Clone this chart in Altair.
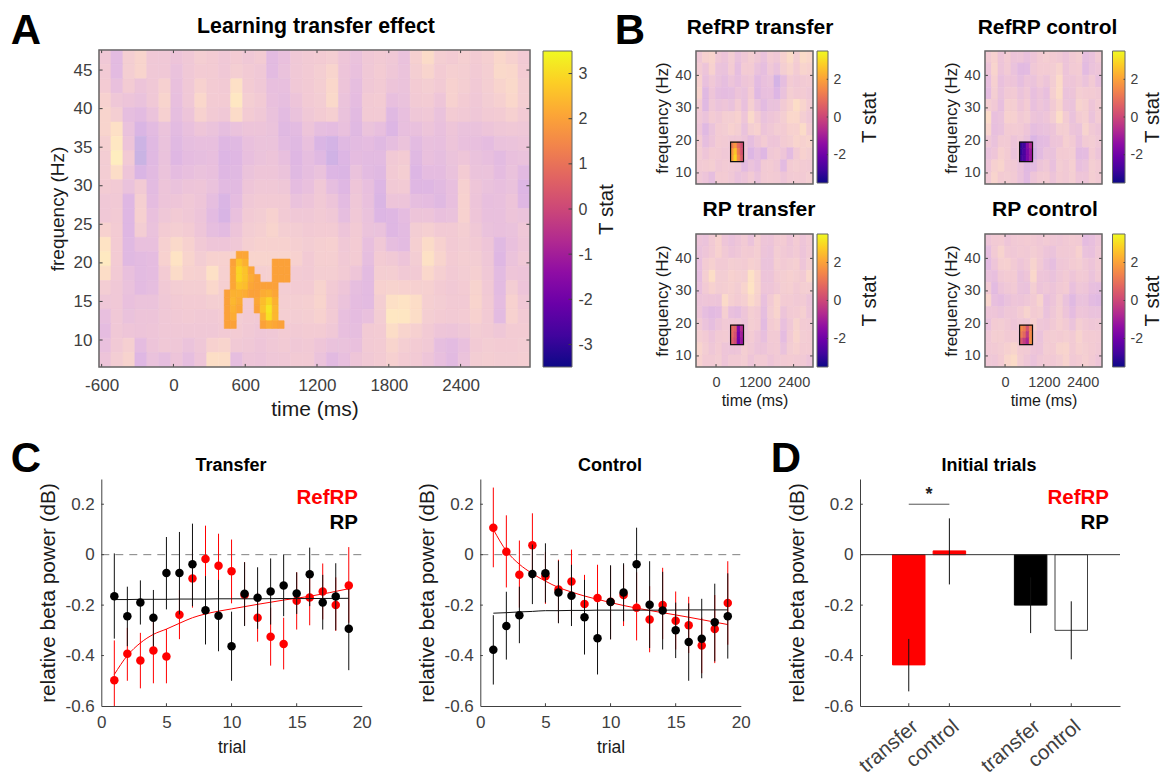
import altair as alt
import numpy as np
import pandas as pd

W, H = 1154, 772
FONT = "Liberation Sans"
GREY = "#404040"
RED = "#ff0000"

PLASMA = ["#0d0887", "#41049d", "#6a00a8", "#8f0da4", "#b12a90", "#cc4778",
          "#e16462", "#f2844b", "#fca636", "#fcce25", "#f0f921"]


def wash(c, a=0.3):
    r = [int(c[i:i + 2], 16) for i in (1, 3, 5)]
    return "#%02x%02x%02x" % tuple(int(round(v * a + 255 * (1 - a))) for v in r)


WASHED = [wash(c) for c in PLASMA]

# ---------- panel A: T statistics, rows from top (high frequency) to bottom
A_T = [
 [0,-1,.5,1,0,0,-.3,0,.5,.3,0,.3,0,.3,-1,-.6,0,.2, .3,.5,-.2,-.5,0,.2,0,-.5,.7,1.5,.5,.3,.6,.3,.6,1.2,.8,.2],
 [.2,-1,.5,1,0,0,-.5,0,.3,.3,0,.5,.2,0,-1,-.5,0,.2, .5,1,-.3,-.6,0,.3,-.1,-.4,.5,1,.3,.6,.5,.2,.5,1.3,1.2,.3],
 [.3,-.6,.3,-.3,0,.7,-.6,0,.8,.3,.2,1.8,.3,0,-.7,-.7,0,.2, .5,1.2,-.3,-.8,0,.2,-.3,-.4,.3,.5,.2,.8,.5,.1,.5,1,1.3,.5],
 [.8,-.1,-.3,-.5,0,1,-.7,0,1.2,.3,.3,2.3,.5,.2,-.6,-.8,-.3,.2, .4,1.3,-.4,-.9,.2,.3,-.7,-.5,.2,.3,-.2,.8,.3,0,.4,.7,1.2,.5],
 [1,.5,-.8,-1,-.4,.7,-.8,-.3,.8,.2,0,1.5,.3,0,-.5,-1,-.5,0, .3,.6,-.5,-1.1,.2,.2,-1.2,-.7,-.1,0,-.5,.3,.1,-.1,.2,.3,.7,.2],
 [1,1.8,-.5,-1.6,-1,-.4,-1,-.6,-.2,-.4,-.8,-.5,-.3,-.3,-.4,-1.2,-1,-.3, -.8,-.9,-.6,-1.2,-.4,-.7,-1.4,-.7,-.6,-.3,-.6,-.2,-.5,-.5,-.3,-.1,0,-.1],
 [.6,2.3,-.3,-2.4,-1.2,-.5,-1.2,-.8,-.7,-.7,-1.3,-1.2,-.6,-.4,-.4,-1,-1.2,-.6, -1.6,-2,-1.2,-1,-.9,-1.2,-.8,-.4,-1,-.6,-.7,-.3,-.6,-.7,-.9,-.5,-.4,-.3],
 [.4,2.6,.2,-2.6,-1.2,-.5,-1.3,-.9,-.8,-.7,-1.4,-1.3,-.7,-.4,-.3,-.7,-1.3,-.8, -1.2,-2.2,-1.4,-.9,-1,-1,.1,.3,-1.2,-.6,-.8,-.4,-.2,-.5,-.7,-1,-.6,-.5],
 [.4,1.6,-.2,-1.6,-1.1,-.4,-.9,-.7,-.5,-.6,-1.3,-1.2,-.4,-.2,-.2,-.4,-1.2,-.8, -.5,-1.4,-1.5,-.5,-1,-1.2,.2,.5,-1.4,-.9,-.9,-.5,.3,-.4,-.4,-.9,-.5,-1.1],
 [.3,.2,-.5,.2,-1,-.3,-.5,-.3,-.2,-.5,-1.1,-1.1,-.2,0,0,-.1,-.9,-.6, 0,-.8,-1.3,-.2,-.7,-1.4,.1,.2,-1.3,-1.3,-1.1,-.7,.7,-.2,-.5,-.7,-.5,-1.4],
 [0,.1,-1.3,.6,-.9,-.3,-.2,0,-.2,-.8,-1.6,-.9,0,.2,.2,.2,-.5,-.3, .1,-.3,-1,-.1,-.6,-1.6,-.3,-.3,-.8,-.9,-1.2,-.7,.8,-.3,-.7,-.6,-.3,-1.3],
 [0,.2,-1.3,.7,-.6,-.1,.2,0,-.3,-1,-1.7,-.6,.2,.4,.8,.2,0,0, .2,0,-.8,0,-.5,-1.4,-1.3,-.9,-.3,-.3,-.6,-.5,.8,-.2,-.6,-.6,-.3,-.4],
 [.8,.3,-1.3,.4,-.5,.3,.5,.3,-.2,-.8,-1,-.3,.4,.6,1,.5,.4,.2, .3,.3,-.3,.2,-.4,-.5,-1.3,-1,.4,.6,.2,.2,.5,0,-.5,-.6,-.5,-.1],
 [2,.3,-1.2,-.6,-.6,.7,1.3,.8,.1,-.2,-.2,0,.6,.8,.8,.8,.6,.4, .6,.7,0,.3,-.7,0,-.8,-1,.6,1.5,.8,.2,.4,.2,-.2,-1.2,-.6,-.2],
 [2.4,.3,-1.2,-1,-.9,.8,2,1,.4,.8,.8,1,1,1,1,1,.8,.2, .6,.6,.1,.3,-.8,.3,.1,-.3,.4,1.9,1,.3,.5,.4,-.1,-1.3,-.4,0],
 [1.6,.2,-.6,-1,-.9,.3,1.5,.8,.7,1.8,.7,.6,.5,.6,.7,.6,.3,.2, .5,.5,.2,-.2,-1,.5,.5,.1,.2,1.2,.6,.2,.4,.6,0,-1,-.2,-.3],
 [.4,0,-.5,-1,-.8,.1,.4,.5,.5,1.2,.6,.5,.4,.5,.5,.4,.3,.3, .9,.2,-.2,-.8,-1,.8,.9,.8,.7,.7,.3,.1,.3,.9,.1,-1,.4,-.3],
 [-.1,0,-.6,-.4,-.4,0,.2,.3,.3,.5,.5,.4,.3,.3,.4,.5,.5,.6, 1,.1,-.4,-.9,-1,.5,1.8,2,1.6,.6,.4,.2,.2,1,.2,-.9,.8,0],
 [-.7,0,-.5,-.3,-.3,0,.1,.2,.1,.1,.3,.4,.2,.1,.3,.5,.4,.5, .8,.2,-.7,-.9,-.6,.4,2.3,2.2,1.6,.5,.3,.2,.3,.8,.2,-1,.8,.2],
 [-.9,0,-.2,-.3,-.2,0,0,0,0,0,.2,.3,.1,-.1,0,.3,.2,.3, .3,0,-.7,-.8,.2,.3,1.6,1,.7,.2,-.2,-.3,-.1,.4,.2,-.1,.3,.3],
 [-.6,.1,.6,-.9,-.3,0,-.1,-.4,-.1,.8,1,.1,0,-.2,0,.2,0,.1, -.2,-.5,-.5,-.6,.2,.3,1,.5,.3,.1,-.8,-1,-.6,.2,.4,.3,.3,.4],
 [-.3,.4,.9,-1.3,-.5,-.8,-.3,-.8,-.2,1.7,1.6,-.8,-.2,-.3,-.1,0,.2,.2, -.4,-1.1,-.7,-.2,.1,.3,.7,.3,.2,-.2,-.7,-1.1,-.4,.4,.5,.4,.4,.5],
]

# significant cluster of panel A: frequency -> {time bin start (ms): T}
A_BLOB = {
    21: {525: 2.1, 575: 2.1},
    20: {475: 2.0, 525: 2.6, 575: 2.3, 825: 2.0, 875: 2.0, 925: 2.0},
    19: {475: 2.1, 525: 2.9, 575: 2.6, 625: 2.1, 825: 2.0, 875: 2.0, 925: 2.0},
    18: {475: 2.1, 525: 2.9, 575: 2.6, 625: 2.2, 675: 2.0, 825: 2.0, 875: 2.0, 925: 2.0},
    17: {475: 2.1, 525: 2.6, 575: 2.5, 625: 2.1, 675: 2.0, 725: 2.0, 775: 2.0, 825: 2.0},
    16: {425: 2.0, 475: 2.3, 525: 2.3, 575: 2.2, 625: 2.0, 675: 2.0, 725: 2.2, 775: 2.3, 825: 2.1},
    15: {425: 2.0, 475: 2.4, 525: 2.2, 675: 2.1, 725: 2.5, 775: 2.9, 825: 2.3},
    14: {425: 2.0, 475: 2.3, 525: 2.1, 675: 2.0, 725: 2.6, 775: 3.2, 825: 2.4},
    13: {425: 2.0, 475: 2.2, 725: 2.3, 775: 3.1, 825: 2.4},
    12: {425: 2.0, 475: 2.0, 725: 2.0, 775: 2.2, 825: 2.1, 875: 2.0},
}

# ---------- panel B: T statistics
B1_T = [
 [0,.8,1,0,-.3,.4,-.5,0,.5,0,-.5,.3,0,.8,1.5,.5,1.5,1.2],
 [.3,-.3,.8,-.4,-.5,.3,-.8,.3,.3,-.5,-.8,0,-.5,.5,1,.3,1,.8],
 [.8,-.6,0,-.5,-.8,-.3,-.7,-.2,0,-1,-.6,-.4,-2,-.8,.3,0,.2,.3],
 [1,-1.2,-.2,-.8,-.9,-.8,-.3,-.5,.3,-1.2,-.7,-.6,-1.4,-.5,.5,.2,.3,0],
 [.3,-1.2,0,-.4,-.2,-.5,.3,-.6,.6,-.4,-1,-.5,-.5,.2,.8,1.6,1,.3],
 [0,-.4,.3,0,.5,.5,.8,-.2,1.3,.3,-.5,-.2,0,.5,1.2,1.2,.5,0],
 [-.2,-1.2,-.4,.3,.4,.8,.5,-.5,.5,.8,-.3,0,.4,.3,.8,.8,1.5,.3],
 [.3,-.8,-.3,.3,.2,0,0,-.3,-.8,-.2,.3,-.2,-.2,.3,.5,1,.8,1],
 [.4,-.2,.3,.2,0,0,0,-.2,-1.4,-.8,-1.3,0,.2,-.2,-1,.2,.8,.5],
 [.2,.3,.5,0,.2,.1,-.1,-1,-.4,-.8,.2,.3,0,-1,.3,.5,.3,.2],
 [0,-.3,-.8,.3,.3,0,-.5,-.3,.2,-.4,.2,.3,.2,-.2,.2,.3,.2,.5],
]
B2_T = [
 [.2,.8,-.2,.3,-.3,-.2,-.6,-.2,.3,.5,.3,.1,-.3,.2,.5,-.8,-.5,.2],
 [-.3,1,-.3,.2,-.5,-1.1,-1,0,.3,.3,.4,.9,-.3,.2,.3,-1,-.4,-.2],
 [-.7,.7,-.6,-.2,-.3,-.8,-.3,-.4,.1,-.3,.4,1.4,-.2,-.2,.1,-.4,.2,-.6],
 [-.9,.5,-.5,.1,.2,-.4,0,-.7,-.3,-.7,.6,1.5,-.4,-.3,.5,.3,.3,.1],
 [.5,.1,-.7,.6,.5,-.2,.3,-.6,-.2,-.5,.2,1,-.3,-.4,.9,.6,-.2,.3],
 [1.5,-.6,-.4,.8,.7,.1,.4,-.3,-.4,-.2,.4,1.6,.3,-.5,.3,.6,-.4,.3],
 [1,-.7,-.5,.3,.3,.2,-.2,-.8,-.6,-.5,-.3,.5,.5,-.3,-.4,.9,.1,-.2],
 [0,-.5,.2,.2,-.3,0,-.5,-1.5,-1,-.9,-.3,-.2,.6,.2,-.6,.2,.4,0],
 [-.5,-.2,.7,.3,-.4,0,-.7,-1.9,-1,-.4,-.5,.3,.3,.4,-1,-.9,.3,-.3],
 [-.2,.7,1,.2,.1,-.4,-1.2,-1,-.3,0,-.6,.4,.1,.6,-.7,-.4,.5,.2],
 [.1,1,.3,.4,.2,-.4,-1.1,-.2,.2,.3,-.3,.3,.1,.5,-.2,-.2,.5,.2],
]
B3_T = [
 [-.3,-.4,.2,.8,-.2,-.5,-.2,.2,-.4,.5,-.2,-.3,.2,.3,-.2,.3,-.2,.2],
 [-.5,-.2,.2,.8,.1,-.3,-.1,.3,.2,.5,-.3,-.4,.4,.1,-.1,.2,-.3,.2],
 [-.7,.3,.7,.2,.2,.5,.4,.3,.7,.5,-.4,-.4,.5,.2,.4,.6,-.2,.5],
 [-.8,.5,1.6,.4,.4,.8,.6,.5,1.9,1,-.3,-.3,.3,.5,.7,.5,.2,1.2],
 [-.6,.2,.8,.4,.5,.7,.4,1,2,1,-.2,-.2,.1,.5,.6,.2,.5,.5],
 [-.3,-.2,-.2,-.3,1.4,.6,.3,.6,1.4,.8,-.6,.2,1,.3,.3,.1,.2,-.3],
 [-.2,-.8,-1.1,-.9,.6,-.6,-.8,-.2,.5,.2,-.8,.4,1,-.3,.2,.3,.6,-.2],
 [.2,-.4,-.8,-.3,.1,0,0,-.3,.5,.3,-1,.3,.6,-.6,0,.9,.3,.2],
 [.5,.2,-.3,.2,.3,0,0,-.1,.3,-.2,-.7,.2,.2,-.9,.2,1,.4,.3],
 [1,.4,-.1,.3,-.2,-.3,-.2,.5,.1,-.3,-.3,.1,.2,-.5,.4,.7,.3,.3],
 [.8,.2,.2,.4,-.2,.2,.2,.4,-.2,.2,.2,-.2,.1,.2,.3,.2,.1,-.3],
]
B4_T = [
 [-.2,.2,.3,-.2,.1,.2,.3,.2,0,.2,0,-.1,.1,.3,.2,-.9,-.7,-.2],
 [-.8,.2,.9,.1,0,.2,.1,.4,.1,-.3,-.4,.1,.1,.2,.8,-.5,-.6,0],
 [-1,-.2,.6,.7,.2,-.2,.1,.9,.1,-.5,-.8,-.1,0,.3,.5,0,-.3,.2],
 [-.5,-.7,.1,.3,.3,-.5,-.2,1.2,-.2,-.3,-.5,-.1,.2,-.2,.2,.1,-.4,.1],
 [.2,-1,-.3,0,.2,-.4,-.5,.5,-.3,-.1,-.3,.1,.3,-.6,-.1,-.2,-.7,-.8],
 [1,-.7,-.9,-.5,-.2,-.3,-.1,.2,.9,-.6,-.3,.4,-.5,-1.2,-.5,-.5,-1,-1.2],
 [-.2,-.2,-.4,-.1,-.1,.3,.9,.3,.5,-.5,-.1,.5,-.3,-.9,-.2,-.3,-.5,-.5],
 [-.5,.3,.4,.1,-.2,0,0,.7,-.1,-.2,.1,.6,.2,-.4,.5,.1,-.1,0],
 [0,.5,.5,.2,.3,0,0,.1,-.4,.3,.4,.3,.5,.2,.9,.3,.3,.2],
 [.1,.2,.4,.7,1,.3,.2,-.2,-.3,.4,.3,.9,1,.2,.7,.5,.3,.1],
 [0,-.1,.3,1.1,1.5,.4,-.1,-.4,0,.2,.1,.4,.9,.1,.3,.6,.2,-.2],
]
# time-frequency window of panel B: rows high to low, four time bins
B1_WIN = [[1.2, 1.8, .8, .2], [1.8, 2.6, 1.2, .3], [1.9, 2.9, 1.5, .5]]
B2_WIN = [[-3, -2.8, -1.6, -.8], [-3, -2.6, -1.8, -1.2], [-2.8, -2.6, -1.8, -1.2]]
B3_WIN = [[.8, .6, -1.7, -.7], [.8, .3, -1.9, -1], [.6, .1, -2, -1.2]]
B4_WIN = [[1.5, 1.2, .3, 1.3], [1.2, .8, -.3, 1.5], [.4, -.2, -.8, 1.6]]

# ---------- panel C
TRIALS = list(range(1, 20))
TR_RED = [-.498,-.393,-.42,-.38,-.404,-.238,-.094,-.017,-.044,-.066,-.16,-.25,-.325,-.354,-.183,-.17,-.146,-.2,-.122]
TR_RED_HI = [-.34,-.29,-.31,-.25,-.295,-.14,.02,.115,.083,.06,-.03,-.15,-.21,-.25,-.07,-.06,-.035,-.09,.03]
TR_RED_LO = [-.6,-.5,-.53,-.51,-.51,-.335,-.21,-.15,-.17,-.193,-.28,-.345,-.44,-.455,-.297,-.28,-.257,-.302,-.27]
TR_BLK = [-.165,-.244,-.19,-.25,-.073,-.073,-.038,-.22,-.242,-.363,-.155,-.171,-.146,-.122,-.154,-.078,-.19,-.166,-.294]
TR_BLK_HI = [.005,-.127,-.102,-.14,.07,.09,.123,-.085,-.1,-.226,-.03,-.05,-.015,0,-.07,.028,-.08,-.034,-.137]
TR_BLK_LO = [-.333,-.363,-.277,-.363,-.217,-.237,-.204,-.356,-.383,-.5,-.283,-.294,-.277,-.244,-.235,-.204,-.297,-.3,-.458]
TR_FIT_X = [1, 2, 3, 4, 5, 6, 7, 8, 9, 10, 12, 14, 16, 19]
TR_FIT_RED = [-.475,-.4,-.35,-.316,-.295,-.272,-.25,-.235,-.224,-.215,-.197,-.18,-.165,-.135]
TR_FIT_BLK = [-.178,-.178,-.177,-.177,-.177,-.176,-.176,-.176,-.175,-.175,-.175,-.174,-.174,-.173]

CT_RED = [.107,.012,-.08,.037,-.086,-.138,-.106,-.196,-.172,-.187,-.16,-.21,-.257,-.2,-.262,-.28,-.36,-.295,-.192]
CT_RED_HI = [.266,.156,.056,.164,.01,-.02,.02,-.08,-.04,-.045,-.04,-.07,-.125,-.052,-.146,-.167,-.25,-.16,-.026]
CT_RED_LO = [-.05,-.13,-.21,-.1,-.195,-.27,-.237,-.316,-.323,-.335,-.283,-.34,-.387,-.335,-.376,-.39,-.47,-.43,-.357]
CT_BLK = [-.377,-.283,-.24,-.077,-.074,-.15,-.163,-.248,-.331,-.188,-.15,-.038,-.199,-.221,-.3,-.346,-.333,-.268,-.244]
CT_BLK_HI = [-.24,-.147,-.127,.04,.045,-.024,-.04,-.1,-.19,-.042,-.034,.107,-.026,-.068,-.19,-.193,-.175,-.115,-.074]
CT_BLK_LO = [-.515,-.416,-.351,-.196,-.19,-.272,-.283,-.396,-.475,-.336,-.264,-.19,-.37,-.376,-.41,-.5,-.49,-.423,-.412]
CT_FIT_RED = [.1,.015,-.038,-.075,-.105,-.13,-.148,-.164,-.177,-.19,-.212,-.23,-.248,-.277]
CT_FIT_BLK = [-.232,-.23,-.227,-.225,-.222,-.222,-.221,-.221,-.22,-.22,-.22,-.22,-.219,-.219]

# ---------- panel D
D_POS = [1, 2, 4, 5]
D_LABELS = ["transfer", "control", "transfer", "control"]
D_VALUES = [-.437, .015, -.2, -.3]
D_HI = [-.334, .144, -.09, -.185]
D_LO = [-.542, -.118, -.311, -.415]
D_FILL = [RED, RED, "#000000", "#ffffff"]
D_STROKE = [RED, RED, "#000000", "#404040"]


# ---------- helpers
def rng(a, b):
    return [a - 8, b - 8]


def base_axis(orient, edge, **kw):
    if orient == "left":
        off = -(edge - 8)
    elif orient == "right":
        off = edge - 8 - W
    else:
        off = edge - 8 - H
    d = dict(orient=orient, offset=off, grid=False, ticks=False, domain=False,
             labelColor=GREY, titleColor="#1a1a1a", labelFont=FONT, titleFont=FONT,
             titleFontWeight="normal", labelOverlap=False, labelFlush=False,
             labelExpr="'' + datum.value")
    d.update(kw)
    return alt.Axis(**d)


def kw(ax=None, off=False):
    """Axis argument of one layer: the real axis, nothing, or none at all."""
    if off:
        return {"axis": None}
    return {"axis": ax} if ax is not None else {}


def cells(matrix, xdom, ydom):
    m = np.array(matrix, dtype=float)
    rows, cols = m.shape
    xs = np.linspace(xdom[0], xdom[1], cols + 1)
    ys = np.linspace(ydom[1], ydom[0], rows + 1)
    rec = []
    for r in range(rows):
        for c in range(cols):
            rec.append(dict(x0=xs[c], x1=xs[c + 1], y0=ys[r + 1], y1=ys[r], v=m[r, c]))
    return pd.DataFrame(rec)


def rect_layer(df, sx, sy, colors, xk, yk):
    cs = alt.Scale(domain=[-3.5, 3.5], range=colors, interpolate="rgb")
    return alt.Chart(df).mark_rect(strokeWidth=0.6).encode(
        x=alt.X("x0:Q", scale=sx, **xk), x2="x1:Q",
        y=alt.Y("y0:Q", scale=sy, **yk), y2="y1:Q",
        color=alt.Color("v:Q", scale=cs, legend=None),
        stroke=alt.Stroke("v:Q", scale=cs, legend=None))


def in_ticks(sx, sy, xticks, yticks, xdom, ydom, xlen, ylen, both, xk, yk):
    out = []
    tx = pd.DataFrame({"t": xticks})
    ty = pd.DataFrame({"t": yticks})
    pairs = [(ydom[0], ydom[0] + ylen)]
    pairy = [(xdom[0], xdom[0] + xlen)]
    if both:
        pairs.append((ydom[1], ydom[1] - ylen))
        pairy.append((xdom[1], xdom[1] - xlen))
    for a, b in pairs:
        out.append(alt.Chart(tx).mark_rule(color=GREY, strokeWidth=1).encode(
            x=alt.X("t:Q", scale=sx, **xk),
            y=alt.Y(datum=a, scale=sy, **yk), y2=alt.Y2(datum=b)))
    for a, b in pairy:
        out.append(alt.Chart(ty).mark_rule(color=GREY, strokeWidth=1).encode(
            y=alt.Y("t:Q", scale=sy, **yk),
            x=alt.X(datum=a, scale=sx, **xk), x2=alt.X2(datum=b)))
    return out


def box(sx, sy, xdom, ydom, xk, yk, color="#666666", width=1.5):
    df = pd.DataFrame({"a": [xdom[0]], "b": [xdom[1]], "c": [ydom[0]], "d": [ydom[1]]})
    return alt.Chart(df).mark_rect(fillOpacity=0, fill="#ffffff", stroke=color, strokeWidth=width).encode(
        x=alt.X("a:Q", scale=sx, **xk), x2="b:Q",
        y=alt.Y("c:Q", scale=sy, **yk), y2="d:Q")


def colorbar(x0, x1, y0, y1, ticks, fs, title_fs, label_pad, title_pad):
    sx = alt.Scale(domain=[0, 1], range=rng(x0, x1))
    sy = alt.Scale(domain=[-3.5, 3.5], range=rng(y1, y0))
    grad = alt.Gradient(gradient="linear", x1=0, y1=1, x2=0, y2=0,
                        stops=[alt.GradientStop(color=c, offset=i / (len(PLASMA) - 1))
                               for i, c in enumerate(PLASMA)])
    df = pd.DataFrame({"a": [0], "b": [1], "lo": [-3.5], "hi": [3.5]})
    ax = base_axis("right", x1, values=ticks, title="T stat", labelFontSize=fs,
                   titleFontSize=title_fs, titleAngle=270, titleBaseline="bottom",
                   labelPadding=label_pad, titlePadding=title_pad)
    bar = alt.Chart(df).mark_rect(fill=grad, stroke="#666666", strokeWidth=1).encode(
        x=alt.X("a:Q", scale=sx, axis=None), x2="b:Q",
        y=alt.Y("lo:Q", scale=sy, axis=ax), y2="hi:Q")
    t = pd.DataFrame({"t": ticks})
    tk = alt.Chart(t).mark_rule(color=GREY, strokeWidth=1).encode(
        y=alt.Y("t:Q", scale=sy),
        x=alt.X(datum=0.88, scale=sx, axis=None), x2=alt.X2(datum=1))
    return alt.layer(bar, tk)


def label(text, x, y, size, bold=False, color="#000000", align="center", angle=0):
    return alt.Chart(pd.DataFrame({"s": [text]})).mark_text(
        font=FONT, fontSize=size, fontWeight="bold" if bold else "normal",
        color=color, align=align, baseline="middle", angle=angle
    ).encode(x=alt.value(x - 8), y=alt.value(y - 8), text="s:N")


# ---------- panel A
A_X, A_Y = [-622, 2980], [6.5, 47.6]
ax_s = alt.Scale(domain=A_X, range=rng(99, 530))
ay_s = alt.Scale(domain=A_Y, range=rng(367, 50))
a_xticks = [-600, 0, 600, 1200, 1800, 2400]
a_yticks = [10, 15, 20, 25, 30, 35, 40, 45]
a_rec = [dict(x0=t, x1=t + 50, y0=f - .5, y1=f + .5, v=v)
         for f, row in A_BLOB.items() for t, v in row.items()]
panel_a = alt.layer(
    rect_layer(cells(A_T, A_X, A_Y), ax_s, ay_s, WASHED,
               kw(base_axis("bottom", 367, values=a_xticks, title="time (ms)", labelFontSize=17,
                            titleFontSize=21, labelPadding=10, titlePadding=5)),
               kw(base_axis("left", 99, values=a_yticks, title="frequency (Hz)", labelFontSize=17,
                            titleFontSize=19, labelPadding=7, titlePadding=6))),
    rect_layer(pd.DataFrame(a_rec), ax_s, ay_s, PLASMA, {}, {}),
    *in_ticks(ax_s, ay_s, a_xticks, a_yticks, A_X, A_Y, 30, 0.4, True, {}, {}),
    box(ax_s, ay_s, A_X, A_Y, {}, {}),
).resolve_scale(color="independent", stroke="independent")


# ---------- panels B
def panel_b(matrix, win, x0, y0, labels):
    xd, yd = [-620, 3000], [6.6, 47.5]
    sx = alt.Scale(domain=xd, range=rng(x0, x0 + 117))
    sy = alt.Scale(domain=yd, range=rng(y0 + 133, y0))
    xk_rest = {} if labels else {"axis": None}
    xk = xk_rest
    if labels:
        xk = kw(base_axis("bottom", y0 + 133, values=[0, 1200, 2400], title="time (ms)",
                          labelFontSize=14.5, titleFontSize=16, labelPadding=8, titlePadding=4))
    yk = kw(base_axis("left", x0, values=[10, 20, 30, 40], title="frequency (Hz)",
                      labelFontSize=14.5, titleFontSize=17, labelPadding=5, titlePadding=3))
    wr = []
    for i, row in enumerate(win):
        for j, v in enumerate(row):
            wr.append(dict(x0=450 + 100 * j, x1=550 + 100 * j,
                           y0=17.5 - 2 * i, y1=19.5 - 2 * i, v=v))
    return alt.layer(
        rect_layer(cells(matrix, xd, yd), sx, sy, WASHED, xk, yk),
        rect_layer(pd.DataFrame(wr), sx, sy, PLASMA, xk_rest, {}),
        box(sx, sy, [450, 850], [13.5, 19.5], xk_rest, {}, "#111111", 1.2),
        *in_ticks(sx, sy, [0, 1200, 2400], [10, 20, 30, 40], xd, yd, 90, 0.9, True, xk_rest, {}),
        box(sx, sy, xd, yd, xk_rest, {}),
    ).resolve_scale(color="independent", stroke="independent")


# ---------- panels C
def panel_c(x0, red, rhi, rlo, blk, bhi, blo, fit_r, fit_b):
    xd, yd = [0, 20], [-.6, .3]
    sx = alt.Scale(domain=xd, range=rng(x0, x0 + 260.5))
    sy = alt.Scale(domain=yd, range=rng(706, 479))
    yt = [-.6, -.4, -.2, 0, .2]
    ax = base_axis("bottom", 706, values=[0, 5, 10, 15, 20], title="trial", domain=True,
                   domainColor=GREY, labelFontSize=17, titleFontSize=17.5, labelPadding=8, titlePadding=8)
    ay = base_axis("left", x0, values=yt, title="relative beta power (dB)", domain=True,
                   domainColor=GREY, labelFontSize=17, titleFontSize=20.7, labelPadding=7, titlePadding=7)
    d = pd.DataFrame(dict(t=TRIALS, r=red, rh=rhi, rl=rlo, b=blk, bh=bhi, bl=blo))
    f = pd.DataFrame(dict(t=TR_FIT_X, r=fit_r, b=fit_b))
    zero = pd.DataFrame({"a": [0], "b": [20], "z": [0]})

    def X(n="t:Q"):
        return alt.X(n, scale=sx)

    def Y(n):
        return alt.Y(n, scale=sy)

    return alt.layer(
        alt.Chart(zero).mark_rule(color="#808080", strokeDash=[8, 6], strokeWidth=1).encode(
            x=alt.X("a:Q", scale=sx, axis=ax), x2="b:Q", y=alt.Y("z:Q", scale=sy, axis=ay)),
        alt.Chart(d).mark_rule(color=RED, strokeWidth=1).encode(x=X(), y=Y("rl:Q"), y2="rh:Q"),
        alt.Chart(f).mark_line(color=RED, strokeWidth=1, interpolate="monotone").encode(x=X(), y=Y("r:Q")),
        alt.Chart(d).mark_point(filled=True, opacity=1, color=RED, size=72).encode(x=X(), y=Y("r:Q")),
        alt.Chart(d).mark_rule(color="#111111", strokeWidth=1).encode(x=X(), y=Y("bl:Q"), y2="bh:Q"),
        alt.Chart(f).mark_line(color="#111111", strokeWidth=1, interpolate="monotone").encode(x=X(), y=Y("b:Q")),
        alt.Chart(d).mark_point(filled=True, opacity=1, color="#000000", size=72).encode(x=X(), y=Y("b:Q")),
        *in_ticks(sx, sy, [5, 10, 15], [-.4, -.2, 0, .2], xd, yd, 0.2, 0.011, False, {}, {}),
    )


# ---------- panel D
dx_d, dy_d = [-.2, 6.2], [-.6, .3]
dsx = alt.Scale(domain=dx_d, range=rng(860, 1120))
dsy = alt.Scale(domain=dy_d, range=rng(706, 479))
d_df = pd.DataFrame(dict(p=D_POS, l=[p - .4 for p in D_POS], h=[p + .4 for p in D_POS],
                         v=D_VALUES, z=[0] * 4, hi=D_HI, lo=D_LO, fill=D_FILL, stroke=D_STROKE))
d_expr = "{" + ",".join(f"'{p}':'{l}'" for p, l in zip(D_POS, D_LABELS)) + "}[datum.value]"
d_ax = base_axis("bottom", 706, values=D_POS, title=None, domain=True, domainColor=GREY,
                 labelExpr=d_expr, labelAngle=-40, labelAlign="right", labelBaseline="top",
                 labelFontSize=20.5, labelPadding=10)
d_ay = base_axis("left", 860, values=[-.6, -.4, -.2, 0, .2], title="relative beta power (dB)",
                 domain=True, domainColor=GREY, labelFontSize=17, titleFontSize=20.7,
                 labelPadding=7, titlePadding=16)
panel_d = alt.layer(
    alt.Chart(d_df).mark_rect(strokeWidth=1).encode(
        x=alt.X("l:Q", scale=dsx, axis=d_ax), x2="h:Q",
        y=alt.Y("v:Q", scale=dsy, axis=d_ay), y2="z:Q",
        fill=alt.Fill("fill:N", scale=None), stroke=alt.Stroke("stroke:N", scale=None)),
    alt.Chart(pd.DataFrame({"a": [-.2], "b": [6.2], "z": [0]})).mark_rule(color="#333333", strokeWidth=1).encode(
        x=alt.X("a:Q", scale=dsx), x2="b:Q", y=alt.Y("z:Q", scale=dsy)),
    alt.Chart(d_df).mark_rule(color="#111111", strokeWidth=1).encode(
        x=alt.X("p:Q", scale=dsx), y=alt.Y("lo:Q", scale=dsy), y2="hi:Q"),
    alt.Chart(pd.DataFrame({"a": [1], "b": [2], "z": [.2]})).mark_rule(color="#555555", strokeWidth=1).encode(
        x=alt.X("a:Q", scale=dsx), x2="b:Q", y=alt.Y("z:Q", scale=dsy)),
    alt.Chart(pd.DataFrame({"a": [1.5], "z": [.235], "s": ["*"]})).mark_text(
        font=FONT, fontSize=18, fontWeight="bold", color="#222222", baseline="middle").encode(
        x=alt.X("a:Q", scale=dsx), y=alt.Y("z:Q", scale=dsy), text="s:N"),
    *in_ticks(dsx, dsy, D_POS, [-.4, -.2, 0, .2], dx_d, dy_d, 0.07, 0.011, False, {}, {}),
)

panels = [
    panel_a,
    colorbar(543, 572, 51, 367, [-3, -2, -1, 0, 1, 2, 3], 16, 20.5, 6, 24),
    panel_b(B1_T, B1_WIN, 696, 51, False),
    colorbar(817, 828, 51, 183, [-2, 0, 2], 14, 20.5, 5, 34),
    panel_b(B2_T, B2_WIN, 985, 51, False),
    colorbar(1112.5, 1125, 51, 183, [-2, 0, 2], 14, 20.5, 5, 20),
    panel_b(B3_T, B3_WIN, 696, 234, True),
    colorbar(817, 828, 234, 367, [-2, 0, 2], 14, 20.5, 5, 34),
    panel_b(B4_T, B4_WIN, 985, 234, True),
    colorbar(1112.5, 1125, 234, 367, [-2, 0, 2], 14, 20.5, 5, 20),
    panel_c(101.3, TR_RED, TR_RED_HI, TR_RED_LO, TR_BLK, TR_BLK_HI, TR_BLK_LO,
            TR_FIT_RED, TR_FIT_BLK),
    panel_c(480.3, CT_RED, CT_RED_HI, CT_RED_LO, CT_BLK, CT_BLK_HI, CT_BLK_LO,
            CT_FIT_RED, CT_FIT_BLK),
    panel_d,
]
texts = [
    label("A", 26, 31, 42, True),
    label("B", 630, 31, 42, True),
    label("C", 26, 459, 42, True),
    label("D", 786, 459, 42, True),
    label("Learning transfer effect", 316, 27, 21.3, True),
    label("RefRP transfer", 760, 28, 21, True),
    label("RefRP control", 1047.5, 28, 21, True),
    label("RP transfer", 759, 210, 21, True),
    label("RP control", 1045, 210, 21, True),
    label("Transfer", 231, 466, 18, True),
    label("Control", 610, 466, 18, True),
    label("Initial trials", 989, 466, 18, True),
    label("RefRP", 358, 498, 20.5, True, RED, "right"),
    label("RP", 358, 523, 20.5, True, "#000000", "right"),
    label("RefRP", 1109, 498, 20.5, True, RED, "right"),
    label("RP", 1109, 523, 20.5, True, "#000000", "right"),
]

chart = alt.layer(*panels, *texts).resolve_scale(
    x="independent", y="independent", color="independent", stroke="independent"
).properties(
    width=W, height=H, padding=0, autosize=alt.AutoSizeParams(type="none")
).configure(background="#ffffff").configure_view(strokeWidth=0)

chart.save("out.html", embed_options={"renderer": "svg", "actions": False})
